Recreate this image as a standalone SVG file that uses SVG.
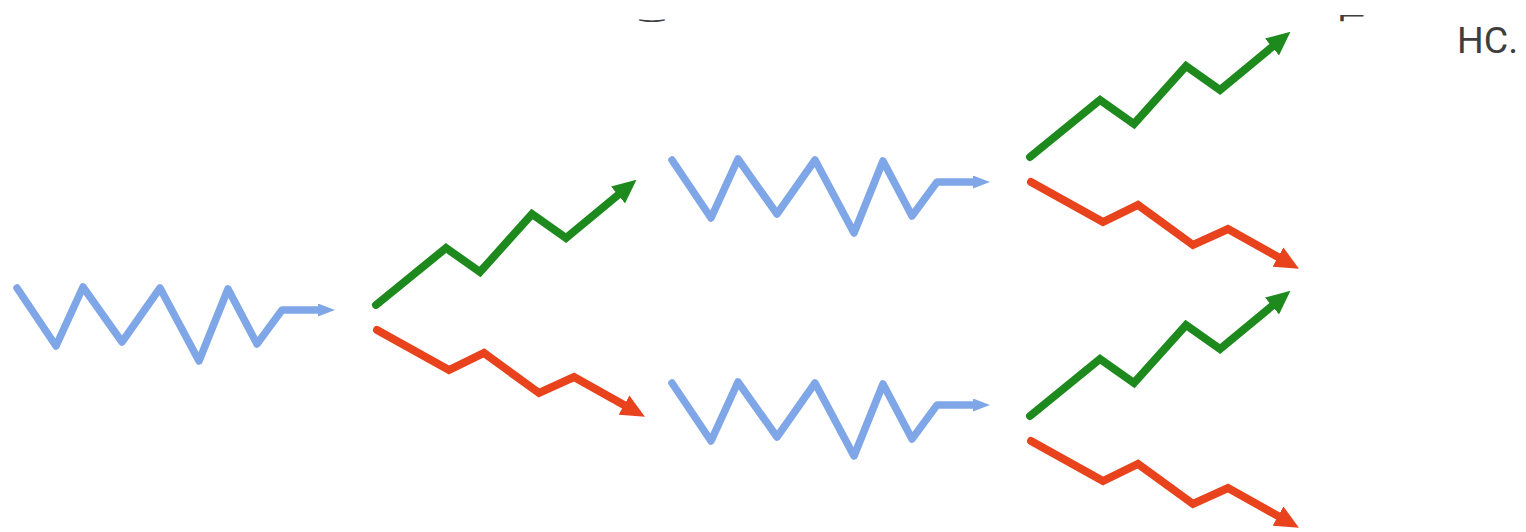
<svg xmlns="http://www.w3.org/2000/svg" width="1526" height="532" viewBox="0 0 1526 532">
  <style>
    .blue { fill: none; stroke: #7fa7e8; stroke-width: 7.5; stroke-linejoin: round; stroke-linecap: round; }
    .green { fill: none; stroke: #1e8a1e; stroke-width: 8; stroke-linejoin: miter; stroke-linecap: round; }
    .red { fill: none; stroke: #e8431c; stroke-width: 8; stroke-linejoin: miter; stroke-linecap: round; }
    .txt { font-family: Roboto, "Liberation Sans", sans-serif; fill: #3e3e3e; }
    .frag { font-family: "DejaVu Sans", sans-serif; fill: #3e3e3e; }
  </style>
  <defs>
    <marker id="ab" markerUnits="userSpaceOnUse" viewBox="0 0 17 13" refX="0" refY="6.5" markerWidth="17" markerHeight="13" orient="auto">
      <path d="M0,0 L17,6.5 L0,13 Z" fill="#7fa7e8"/>
    </marker>
    <marker id="ag" markerUnits="userSpaceOnUse" viewBox="0 0 24 22" refX="0" refY="11" markerWidth="24" markerHeight="22" orient="auto">
      <path d="M0,0 L24,11 L0,22 Z" fill="#1e8a1e"/>
    </marker>
    <marker id="ar" markerUnits="userSpaceOnUse" viewBox="0 0 24 22" refX="0" refY="11" markerWidth="24" markerHeight="22" orient="auto">
      <path d="M0,0 L24,11 L0,22 Z" fill="#e8431c"/>
    </marker>
    <path id="zz" class="blue" d="M0,0 L39,58 L66,-1 L105,54 L143,0 L182,73 L211,1 L240,56 L265,22 L301,22" marker-end="url(#ab)"/>
    <path id="up" class="green" d="M0,0 L70,-57 L104,-33 L156,-91 L190,-67 L242,-110" marker-end="url(#ag)"/>
    <path id="down" class="red" d="M0,0 L72,40 L107,23 L162,63 L197,47 L247,75" marker-end="url(#ar)"/>
  </defs>

  <g id="text">
    <text class="frag" x="0" y="0" font-size="18" font-weight="bold" text-anchor="middle" transform="translate(652,18) scale(1.6,1)">‿</text>
    <text class="txt" x="0" y="0" font-size="28" text-anchor="middle" transform="translate(1352,23) scale(1.7,0.8)">⌐</text>
    <text class="txt" x="1457" y="53" font-size="37.5">HC.</text>
  </g>

  <g id="connectors">
    <g id="blue-1"><use href="#zz" transform="translate(17,288)"/></g>
    <g id="green-1"><use href="#up" transform="translate(376,305)"/></g>
    <g id="red-1"><use href="#down" transform="translate(377,330)"/></g>
    <g id="blue-2"><use href="#zz" transform="translate(672,160)"/></g>
    <g id="blue-3"><use href="#zz" transform="translate(672,383)"/></g>
    <g id="green-2"><use href="#up" transform="translate(1030,157)"/></g>
    <g id="red-2"><use href="#down" transform="translate(1031,182)"/></g>
    <g id="green-3"><use href="#up" transform="translate(1030,416)"/></g>
    <g id="red-3"><use href="#down" transform="translate(1031,441)"/></g>
  </g>
</svg>
